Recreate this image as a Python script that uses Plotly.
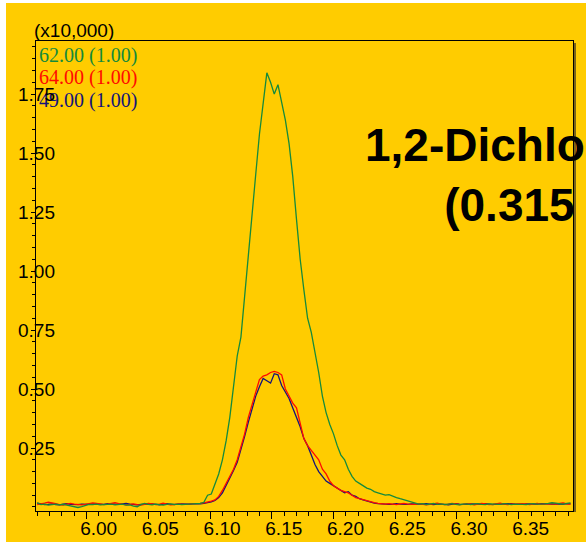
import plotly.graph_objects as go

# Retention time grid (min): one scan every 0.003 min
scan_start = 5.960
scan_step = 0.003
n_scans = 145
ret_time = [round(scan_start + scan_step * i, 4) for i in range(n_scans)]

# Intensities in units of 10,000
mz62 = [0.018, 0.010, 0.012, 0.008, 0.010, 0.012, 0.009, 0.011, 0.008, 0.004,
        0.000, -0.002, 0.002, 0.008, 0.011, 0.010, 0.012, 0.009, 0.011, 0.010,
        0.012, 0.009, 0.010, 0.012, 0.008, 0.009, 0.004, 0.001, 0.010, 0.015,
        0.011, 0.009, 0.012, 0.010, 0.008, 0.011, 0.013, 0.010, 0.012, 0.010,
        0.011, 0.013, 0.012, 0.014, 0.015, 0.020, 0.050, 0.055, 0.100, 0.140,
        0.200, 0.280, 0.380, 0.510, 0.640, 0.720, 0.900, 1.080, 1.250, 1.410,
        1.580, 1.720, 1.840, 1.800, 1.750, 1.790, 1.710, 1.640, 1.540, 1.400,
        1.220, 1.050, 0.920, 0.800, 0.740, 0.660, 0.570, 0.470, 0.400, 0.350,
        0.310, 0.260, 0.220, 0.200, 0.160, 0.130, 0.110, 0.100, 0.090, 0.080,
        0.075, 0.065, 0.060, 0.055, 0.050, 0.052, 0.045, 0.040, 0.035, 0.030,
        0.025, 0.020, 0.016, 0.012, 0.014, 0.010, 0.012, 0.015, 0.011, 0.013,
        0.010, 0.012, 0.014, 0.011, 0.009, 0.012, 0.013, 0.010, 0.012, 0.014,
        0.011, 0.010, 0.013, 0.012, 0.009, 0.011, 0.014, 0.012, 0.010, 0.012,
        0.013, 0.011, 0.010, 0.012, 0.014, 0.012, 0.011, 0.013, 0.015, 0.018,
        0.016, 0.013, 0.012, 0.015, 0.017]

mz64 = [0.010, 0.012, 0.016, 0.020, 0.018, 0.014, 0.010, 0.008, 0.012, 0.015,
        0.012, 0.010, 0.009, 0.011, 0.014, 0.017, 0.015, 0.011, 0.010, 0.012,
        0.016, 0.018, 0.014, 0.010, 0.009, 0.011, 0.013, 0.010, 0.008, 0.011,
        0.015, 0.013, 0.010, 0.012, 0.016, 0.012, 0.009, 0.010, 0.013, 0.011,
        0.010, 0.012, 0.014, 0.013, 0.015, 0.017, 0.020, 0.025, 0.030, 0.045,
        0.070, 0.100, 0.130, 0.160, 0.200, 0.250, 0.310, 0.380, 0.430, 0.490,
        0.540, 0.555, 0.560, 0.570, 0.575, 0.570, 0.560, 0.500, 0.470, 0.440,
        0.420, 0.360, 0.290, 0.260, 0.240, 0.220, 0.200, 0.160, 0.140, 0.110,
        0.090, 0.080, 0.070, 0.065, 0.060, 0.050, 0.040, 0.035, 0.030, 0.025,
        0.020, 0.018, 0.015, 0.013, 0.012, 0.014, 0.011, 0.010, 0.013, 0.015,
        0.012, 0.010, 0.011, 0.014, 0.012, 0.009, 0.011, 0.013, 0.016, 0.012,
        0.010, 0.012, 0.015, 0.013, 0.010, 0.011, 0.014, 0.012, 0.009, 0.012,
        0.015, 0.013, 0.010, 0.011, 0.014, 0.016, 0.012, 0.010, 0.012, 0.013,
        0.011, 0.014, 0.012, 0.010, 0.013, 0.015, 0.012, 0.011, 0.013, 0.014,
        0.012, 0.015, 0.017, 0.013, 0.012]

mz49 = [0.016, 0.012, 0.010, 0.011, 0.013, 0.010, 0.009, 0.012, 0.014, 0.011,
        0.009, 0.010, 0.012, 0.010, 0.011, 0.013, 0.012, 0.009, 0.011, 0.014,
        0.012, 0.010, 0.011, 0.013, 0.015, 0.012, 0.010, 0.009, 0.011, 0.012,
        0.010, 0.013, 0.011, 0.009, 0.012, 0.014, 0.011, 0.010, 0.012, 0.013,
        0.011, 0.012, 0.013, 0.012, 0.013, 0.015, 0.018, 0.022, 0.028, 0.040,
        0.060, 0.090, 0.120, 0.155, 0.190, 0.240, 0.300, 0.360, 0.420, 0.470,
        0.510, 0.545, 0.535, 0.525, 0.565, 0.560, 0.515, 0.490, 0.460, 0.420,
        0.380, 0.340, 0.290, 0.260, 0.220, 0.180, 0.150, 0.130, 0.110, 0.100,
        0.090, 0.080, 0.070, 0.060, 0.065, 0.050, 0.045, 0.035, 0.030, 0.025,
        0.020, 0.016, 0.014, 0.012, 0.013, 0.011, 0.012, 0.014, 0.012, 0.010,
        0.011, 0.013, 0.012, 0.010, 0.012, 0.014, 0.011, 0.010, 0.012, 0.013,
        0.011, 0.009, 0.012, 0.014, 0.012, 0.010, 0.011, 0.013, 0.012, 0.010,
        0.012, 0.014, 0.011, 0.010, 0.012, 0.013, 0.011, 0.012, 0.014, 0.012,
        0.010, 0.011, 0.013, 0.012, 0.010, 0.012, 0.014, 0.013, 0.011, 0.012,
        0.013, 0.011, 0.012, 0.014, 0.013]

legend_labels = ["62.00 (1.00)", "64.00 (1.00)", "49.00 (1.00)"]
y_tick_vals = [0.25, 0.50, 0.75, 1.00, 1.25, 1.50, 1.75]
y_tick_text = ["0.25", "0.50", "0.75", "1.00", "1.25", "1.50", "1.75"]
x_tick_vals = [6.00, 6.05, 6.10, 6.15, 6.20, 6.25, 6.30, 6.35]
x_tick_text = ["6.00", "6.05", "6.10", "6.15", "6.20", "6.25", "6.30", "6.35"]

GREEN = "#158a3c"
RED = "#ff0a00"
NAVY = "#14147a"
BG = "#ffcc00"

W, H = 586, 542
L, R, T, B = 36, 13, 41, 31
PW, PH = W - L - R, H - T - B

fig = go.Figure()
fig.add_trace(go.Scatter(x=ret_time, y=mz49, mode="lines", line=dict(color=NAVY, width=1.3), showlegend=False))
fig.add_trace(go.Scatter(x=ret_time, y=mz64, mode="lines", line=dict(color=RED, width=1.3), showlegend=False))
fig.add_trace(go.Scatter(x=ret_time, y=mz62, mode="lines", line=dict(color=GREEN, width=1.3), showlegend=False))

def px(xp):
    return (xp - L) / PW

def py(yp):
    return (H - B - yp) / PH

annotations = []
# legend texts
for lbl, col, yc in zip(legend_labels, [GREEN, RED, NAVY], [55, 77, 100]):
    annotations.append(dict(xref="paper", yref="paper", x=px(37), y=py(yc), text=lbl,
                            showarrow=False, xanchor="left", yanchor="middle",
                            font=dict(family="Liberation Serif, Times New Roman, serif", size=20, color=col)))
# y tick labels centered on the axis line
for v, t in zip(y_tick_vals, y_tick_text):
    annotations.append(dict(xref="paper", yref="y", x=0, y=v, text=t, showarrow=False,
                            xanchor="center", yanchor="middle",
                            font=dict(family="Liberation Sans, Arial, sans-serif", size=19, color="black")))
annotations.append(dict(xref="paper", yref="paper", x=px(32), y=py(30), text="(x10,000)",
                        showarrow=False, xanchor="left", yanchor="middle",
                        font=dict(family="Liberation Sans, Arial, sans-serif", size=19, color="black")))
annotations.append(dict(xref="paper", yref="paper", x=px(572), y=py(175),
                        text="<b>1,2-Dichloroethane</b><br><b>(0.315 ppm)</b>",
                        showarrow=False, xanchor="center", yanchor="middle", align="center",
                        font=dict(family="Liberation Sans, Arial, sans-serif", size=46, color="black")))

shapes = [
    # white strips at left and top of the image
    dict(type="rect", xref="paper", yref="paper", x0=px(-2), x1=px(6), y0=py(545), y1=py(-2),
         fillcolor="white", line=dict(width=0), layer="below"),
    dict(type="rect", xref="paper", yref="paper", x0=px(-2), x1=px(590), y0=py(3), y1=py(-2),
         fillcolor="white", line=dict(width=0), layer="below"),
    # frame shadow on the right
    dict(type="line", xref="paper", yref="paper", x0=px(575), x1=px(575), y0=py(512), y1=py(43),
         line=dict(color="#7a6418", width=2)),
]

fig.update_layout(
    width=W, height=H,
    margin=dict(l=L, r=R, t=T, b=B, pad=0, autoexpand=False),
    paper_bgcolor=BG, plot_bgcolor=BG,
    showlegend=False,
    annotations=annotations,
    shapes=shapes,
    xaxis=dict(range=[5.959, 6.394], showgrid=False, zeroline=False, automargin=False,
               showline=True, linecolor="black", linewidth=1.3, mirror=True,
               tickmode="array", tickvals=x_tick_vals, ticktext=x_tick_text,
               ticks="outside", ticklen=7, tickwidth=1.2, tickcolor="black",
               ticklabelshift=12, ticklabelstandoff=-7,
               minor=dict(dtick=0.01, tick0=6.0, ticks="outside", ticklen=4, tickwidth=1, tickcolor="black"),
               tickfont=dict(family="Liberation Sans, Arial, sans-serif", size=19, color="black")),
    yaxis=dict(range=[-0.017, 1.975], showgrid=False, zeroline=False, automargin=False,
               showline=True, linecolor="black", linewidth=1.3, mirror=True,
               tickmode="array", tickvals=y_tick_vals, showticklabels=False,
               ticks="outside", ticklen=4, tickwidth=1, tickcolor="black",
               minor=dict(dtick=0.05, tick0=0, ticks="outside", ticklen=3, tickwidth=1, tickcolor="black")),
)

fig.write_html("out.html", config={"responsive": False, "displayModeBar": False},
               post_script="document.body.style.margin='0';document.body.style.overflow='hidden';")
